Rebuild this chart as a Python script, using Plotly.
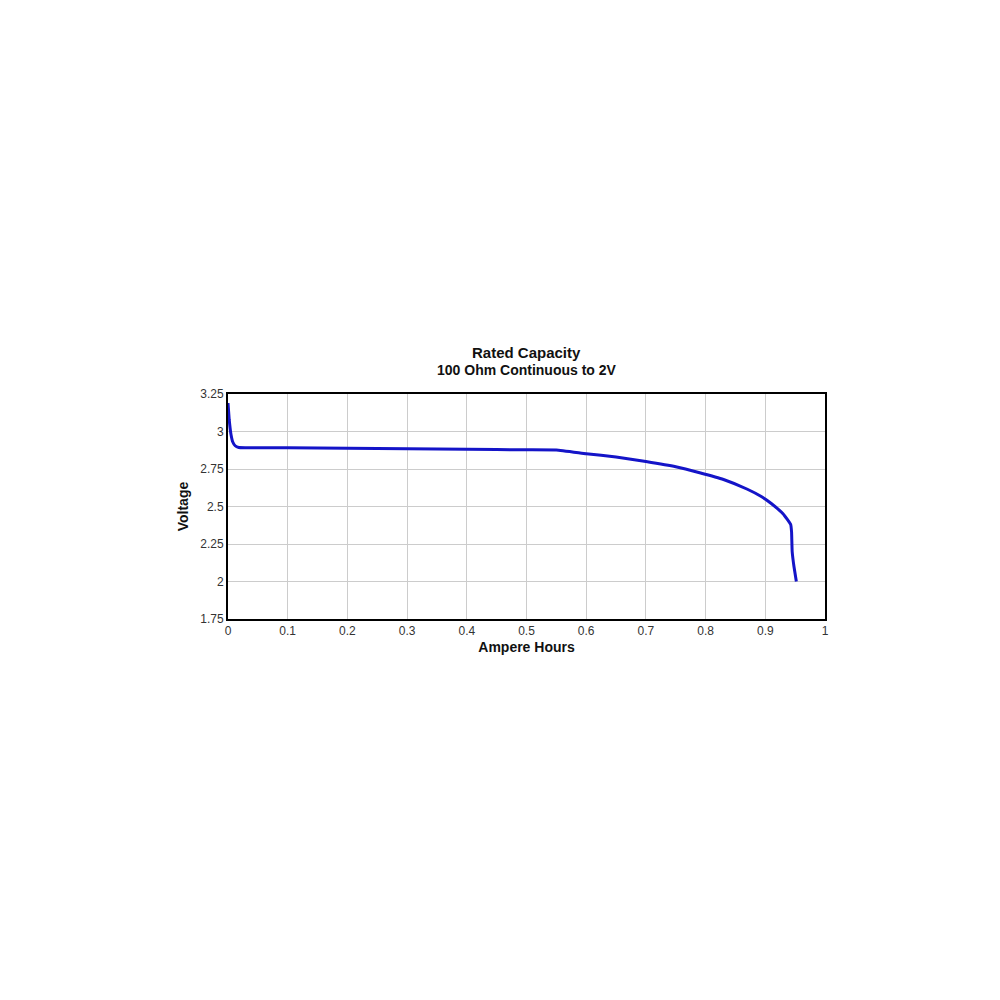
import plotly.graph_objects as go

capacity_ah = [0.0, 0.002, 0.005, 0.008, 0.012, 0.018, 0.03, 0.1, 0.2, 0.3, 0.4, 0.5, 0.55,
               0.6, 0.65, 0.7, 0.75, 0.79, 0.83, 0.87, 0.894, 0.91, 0.93, 0.9425, 0.944,
               0.945, 0.948, 0.952]
voltage_v = [3.19, 3.08, 2.98, 2.93, 2.905, 2.893, 2.892, 2.891, 2.888, 2.885, 2.881, 2.878, 2.877,
             2.852, 2.83, 2.80, 2.765, 2.725, 2.68, 2.615, 2.565, 2.52, 2.45, 2.38, 2.33,
             2.2, 2.1, 2.0]

x_ticks = [0, 0.1, 0.2, 0.3, 0.4, 0.5, 0.6, 0.7, 0.8, 0.9, 1]
y_ticks = [1.75, 2, 2.25, 2.5, 2.75, 3, 3.25]

fig = go.Figure()
fig.add_trace(go.Scatter(x=capacity_ah, y=voltage_v, mode="lines",
                         line=dict(color="#1414c8", width=3, shape="spline", smoothing=0.3),
                         showlegend=False))

font = "Liberation Sans, Arial, sans-serif"
L, R, T, B = 220, 183, 386, 389
fig.update_layout(
    width=1000, height=1000,
    margin=dict(l=L, r=R, t=T, b=B),
    paper_bgcolor="white", plot_bgcolor="white",
    font=dict(family=font, size=12, color="#333"),
    xaxis=dict(range=[0, 1], tickvals=x_ticks, ticktext=[f"{v:g}" for v in x_ticks],
               showgrid=True, gridcolor="#cccccc", gridwidth=1, zeroline=False,
               showline=True, linecolor="black", linewidth=2, mirror=True,
               ticks="", tickfont=dict(size=12, color="#333"),
               title=dict(text="<b>Ampere Hours</b>", font=dict(size=14, color="#111"), standoff=5)),
    yaxis=dict(range=[1.75, 3.25], tickvals=y_ticks, ticktext=[f"{v:g}" for v in y_ticks],
               showgrid=True, gridcolor="#cccccc", gridwidth=1, zeroline=False,
               showline=True, linecolor="black", linewidth=2, mirror=True,
               ticks="", tickfont=dict(size=12, color="#333"),
               title=dict(text="<b>Voltage</b>", font=dict(size=14, color="#111"), standoff=8)),
)
plot_h = 1000 - T - B
# titles placed at pixel offsets above the plot top
for text, off, size in [("<b>Rated Capacity</b>", 42, 15), ("<b>100 Ohm Continuous to 2V</b>", 24, 14)]:
    fig.add_annotation(text=text, x=0.5, y=1 + off / plot_h, xref="paper", yref="paper",
                       yanchor="middle", showarrow=False,
                       font=dict(size=size, color="#111", family=font))

fig.write_html("out.html")
